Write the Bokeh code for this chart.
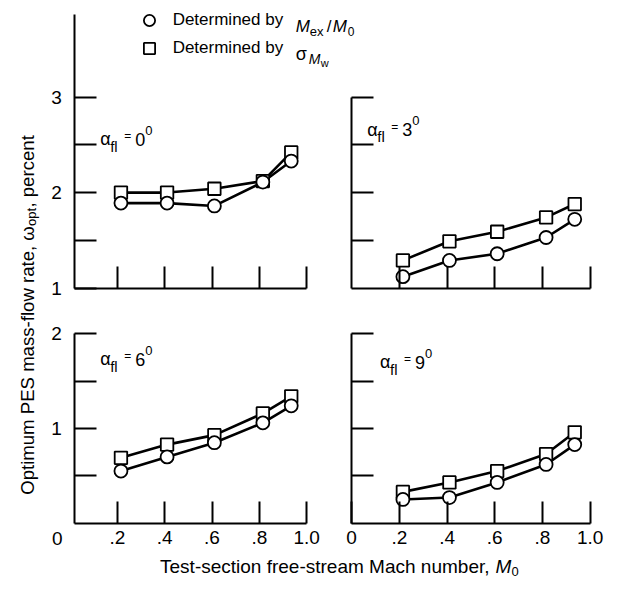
import math
from bokeh.plotting import figure
from bokeh.models import (Range1d, LinearAxis, FixedTicker, CustomJSTickFormatter,
                          Label, Legend, LegendItem, ColumnDataSource)
from bokeh.embed import file_html
from bokeh.resources import INLINE

# ---------------- data ----------------
mach = [0.215, 0.41, 0.61, 0.815, 0.935]          # test-section Mach number M0
mex_0 = [1.89, 1.89, 1.86, 2.11, 2.33]            # alpha_fl = 0 deg, by Mex/M0
sig_0 = [2.00, 2.00, 2.04, 2.12, 2.42]            # alpha_fl = 0 deg, by sigma_Mw
mex_3 = [1.12, 1.29, 1.36, 1.53, 1.72]
sig_3 = [1.29, 1.49, 1.59, 1.74, 1.88]
mex_6 = [0.55, 0.70, 0.85, 1.06, 1.24]
sig_6 = [0.69, 0.83, 0.93, 1.16, 1.34]
mex_9 = [0.25, 0.27, 0.43, 0.62, 0.83]
sig_9 = [0.33, 0.43, 0.55, 0.73, 0.96]
angles = ["0", "3", "6", "9"]
x_ticks = [0.2, 0.4, 0.6, 0.8, 1.0]
x_ticks_br = [0.0, 0.2, 0.4, 0.6, 0.8, 1.0]
y_top_major = [1, 2, 3]
y_top_minor = [1.5, 2.5]
y_tr_minor = [1.5, 2, 2.5, 3]
y_bot_major = [1, 2]
y_bot_minor = [0.5, 1.5]
y_br_minor = [0.5, 1, 1.5, 2]

# ---------------- layout ----------------
W, H = 605, 584
SX, SY = 0.978, 0.975          # squeeze reference pixel layout into the canvas
FONT = "Liberation Sans"


def PX(v):
    return v * SX


def PY(v):
    return v * SY


def xr(v1, p1, v2, p2):
    p1, p2 = PX(p1), PX(p2)
    k = (p2 - p1) / (v2 - v1)
    return Range1d(v1 - p1 / k, v1 + (W - p1) / k)


def yr(v1, p1, v2, p2):
    p1, p2 = PY(p1), PY(p2)
    k = (p1 - p2) / (v2 - v1)
    return Range1d(v1 - (H - p1) / k, v1 + p1 / k)


p = figure(width=W, height=H, x_range=Range1d(0, W), y_range=Range1d(H, 0),
           output_backend="svg", toolbar_location=None, min_border=0,
           x_axis_type=None, y_axis_type=None)
p.outline_line_color = None
p.background_fill_color = "white"
p.border_fill_color = "white"

p.extra_x_ranges = {"L": xr(0.02, 76, 1.0, 313), "R": xr(0.0, 359, 1.0, 603)}
p.extra_y_ranges = {"T": yr(1, 295, 3, 99), "B": yr(0, 536, 2, 342)}

fmt = CustomJSTickFormatter(code="""
if (tick == 0) { return "0"; }
const s = tick.toFixed(1);
return s.startsWith("0") ? s.slice(1) : s;
""")


def style_axis(ax, standoff):
    ax.axis_line_width = 2
    ax.axis_line_color = "black"
    ax.major_tick_in = 22
    ax.major_tick_out = 0
    ax.minor_tick_in = 22
    ax.minor_tick_out = 0
    ax.major_tick_line_width = 2
    ax.minor_tick_line_width = 2
    ax.major_tick_line_color = "black"
    ax.minor_tick_line_color = "black"
    ax.major_label_text_font = FONT
    ax.major_label_text_font_size = "19px"
    ax.major_label_text_color = "black"
    ax.major_label_standoff = standoff


def add_x_axis(xn, yn, loc, bounds, ticker):
    ax = LinearAxis(x_range_name=xn, y_range_name=yn, fixed_location=loc,
                    bounds=bounds, ticker=ticker, formatter=fmt)
    style_axis(ax, 8)
    p.add_layout(ax, "below")


def add_y_axis(xn, yn, loc, bounds, ticker):
    ax = LinearAxis(x_range_name=xn, y_range_name=yn, fixed_location=loc,
                    bounds=bounds, ticker=ticker)
    style_axis(ax, 13)
    p.add_layout(ax, "left")


# top-left
add_x_axis("L", "T", 1, (0.02, 1.0), FixedTicker(ticks=[], minor_ticks=x_ticks))
add_y_axis("L", "T", 0.02, (1, 3.86), FixedTicker(ticks=y_top_major, minor_ticks=y_top_minor))
# top-right
add_x_axis("R", "T", 1, (0.0, 1.0), FixedTicker(ticks=[], minor_ticks=x_ticks))
add_y_axis("R", "T", 0.0, (1, 3), FixedTicker(ticks=[], minor_ticks=y_tr_minor))
# bottom-left
add_x_axis("L", "B", 0, (0.02, 1.0), FixedTicker(ticks=x_ticks))
add_y_axis("L", "B", 0.02, (0, 2), FixedTicker(ticks=y_bot_major, minor_ticks=y_bot_minor))
# bottom-right
add_x_axis("R", "B", 0, (0.0, 1.0), FixedTicker(ticks=x_ticks_br))
add_y_axis("R", "B", 0.0, (0, 2), FixedTicker(ticks=[], minor_ticks=y_br_minor))

panels = [("L", "T", mex_0, sig_0), ("R", "T", mex_3, sig_3),
          ("L", "B", mex_6, sig_6), ("R", "B", mex_9, sig_9)]

legend_renderers = None
for xn, yn, mex, sig in panels:
    src = ColumnDataSource(dict(m=mach, c=mex, s=sig))
    kw = dict(source=src, x_range_name=xn, y_range_name=yn)
    p.line("m", "s", line_width=2.6, line_color="black", **kw)
    p.line("m", "c", line_width=2.6, line_color="black", **kw)
    sq = p.scatter("m", "s", marker="square", size=12.5, fill_color="white",
                   line_color="black", line_width=1.8, **kw)
    ci = p.scatter("m", "c", marker="circle", size=13, fill_color="white",
                   line_color="black", line_width=1.8, **kw)
    if legend_renderers is None:
        legend_renderers = (ci, sq)

GW, GH = 32, 28
leg_top = PY(20) - GH / 2
legend = Legend(items=[LegendItem(label="Determined by", renderers=[legend_renderers[0]]),
                       LegendItem(label="Determined by", renderers=[legend_renderers[1]])],
                location=(PX(152) - GW / 2, H - (leg_top + 2 * GH)), orientation="vertical",
                glyph_width=GW, glyph_height=GH, spacing=0, padding=0, margin=0,
                label_standoff=int(round(PX(177) - (PX(152) + GW / 2))),
                label_text_font=FONT, label_text_font_size="17px",
                label_text_color="black",
                border_line_color=None, background_fill_alpha=0)
p.add_layout(legend)


def txt(x, y, s, size, style="normal", align="left", baseline="alphabetic",
        angle=0.0, xn="default", yn="default", xo=0, yo=0):
    p.add_layout(Label(x=x, y=y, text=s, text_font=FONT, text_font_size=f"{size}px",
                       text_font_style=style, text_align=align, text_baseline=baseline,
                       angle=angle, x_range_name=xn, y_range_name=yn,
                       x_offset=xo, y_offset=yo, text_color="black"))


# legend symbols' math text (pixel coordinates on the default ranges)
txt(PX(302), PY(27), "M", 17, "italic")
txt(PX(302) + 14, PY(27) + 5, "ex", 13)
txt(PX(302) + 31, PY(27), "/", 17)
txt(PX(302) + 37, PY(27), "M", 17, "italic")
txt(PX(302) + 52, PY(27) + 5, "0", 12)
txt(PX(302), PY(55), "σ", 18)
txt(PX(302) + 13, PY(55) + 5, "M", 14, "italic")
txt(PX(302) + 25, PY(55) + 9, "w", 11)

# panel annotations alpha_fl = N deg
anchors = [("L", "T", 0.127, 2.56), ("R", "T", 0.066, 2.66),
           ("L", "B", 0.127, 1.73), ("R", "B", 0.119, 1.70)]
for (xn, yn, ax_, ay_), a in zip(anchors, angles):
    txt(ax_, ay_, "α", 18, xn=xn, yn=yn)
    txt(ax_, ay_, "fl", 15, xn=xn, yn=yn, xo=10, yo=-7)
    txt(ax_, ay_, "=", 12, xn=xn, yn=yn, xo=24, yo=3)
    txt(ax_, ay_, a, 18, xn=xn, yn=yn, xo=35)
    txt(ax_, ay_, "0", 13, xn=xn, yn=yn, xo=45, yo=9)

# lone "0" at the lower-left corner
txt(PX(58), PY(552), "0", 19, align="center", baseline="middle")

# x-axis title
XT_BASE = 566
txt(PX(500), XT_BASE, "Test-section free-stream Mach number,", 19, align="right")
txt(PX(500) + 6, XT_BASE, "M", 19, "italic")
txt(PX(500) + 22, XT_BASE + 5, "0", 13)

# y-axis title (rotated)
rot = math.pi / 2
YT = 18.6
y0 = PY(507)
w1 = 14.45 * YT
txt(PX(28), y0, "Optimum PES mass-flow rate, ω", YT, angle=rot)
txt(PX(28) + 4, y0 - w1, "opt", 13, angle=rot)
txt(PX(28), y0 - w1 - 18.5, ", percent", YT, angle=rot)

open("out.html", "w").write(file_html(p, INLINE))
